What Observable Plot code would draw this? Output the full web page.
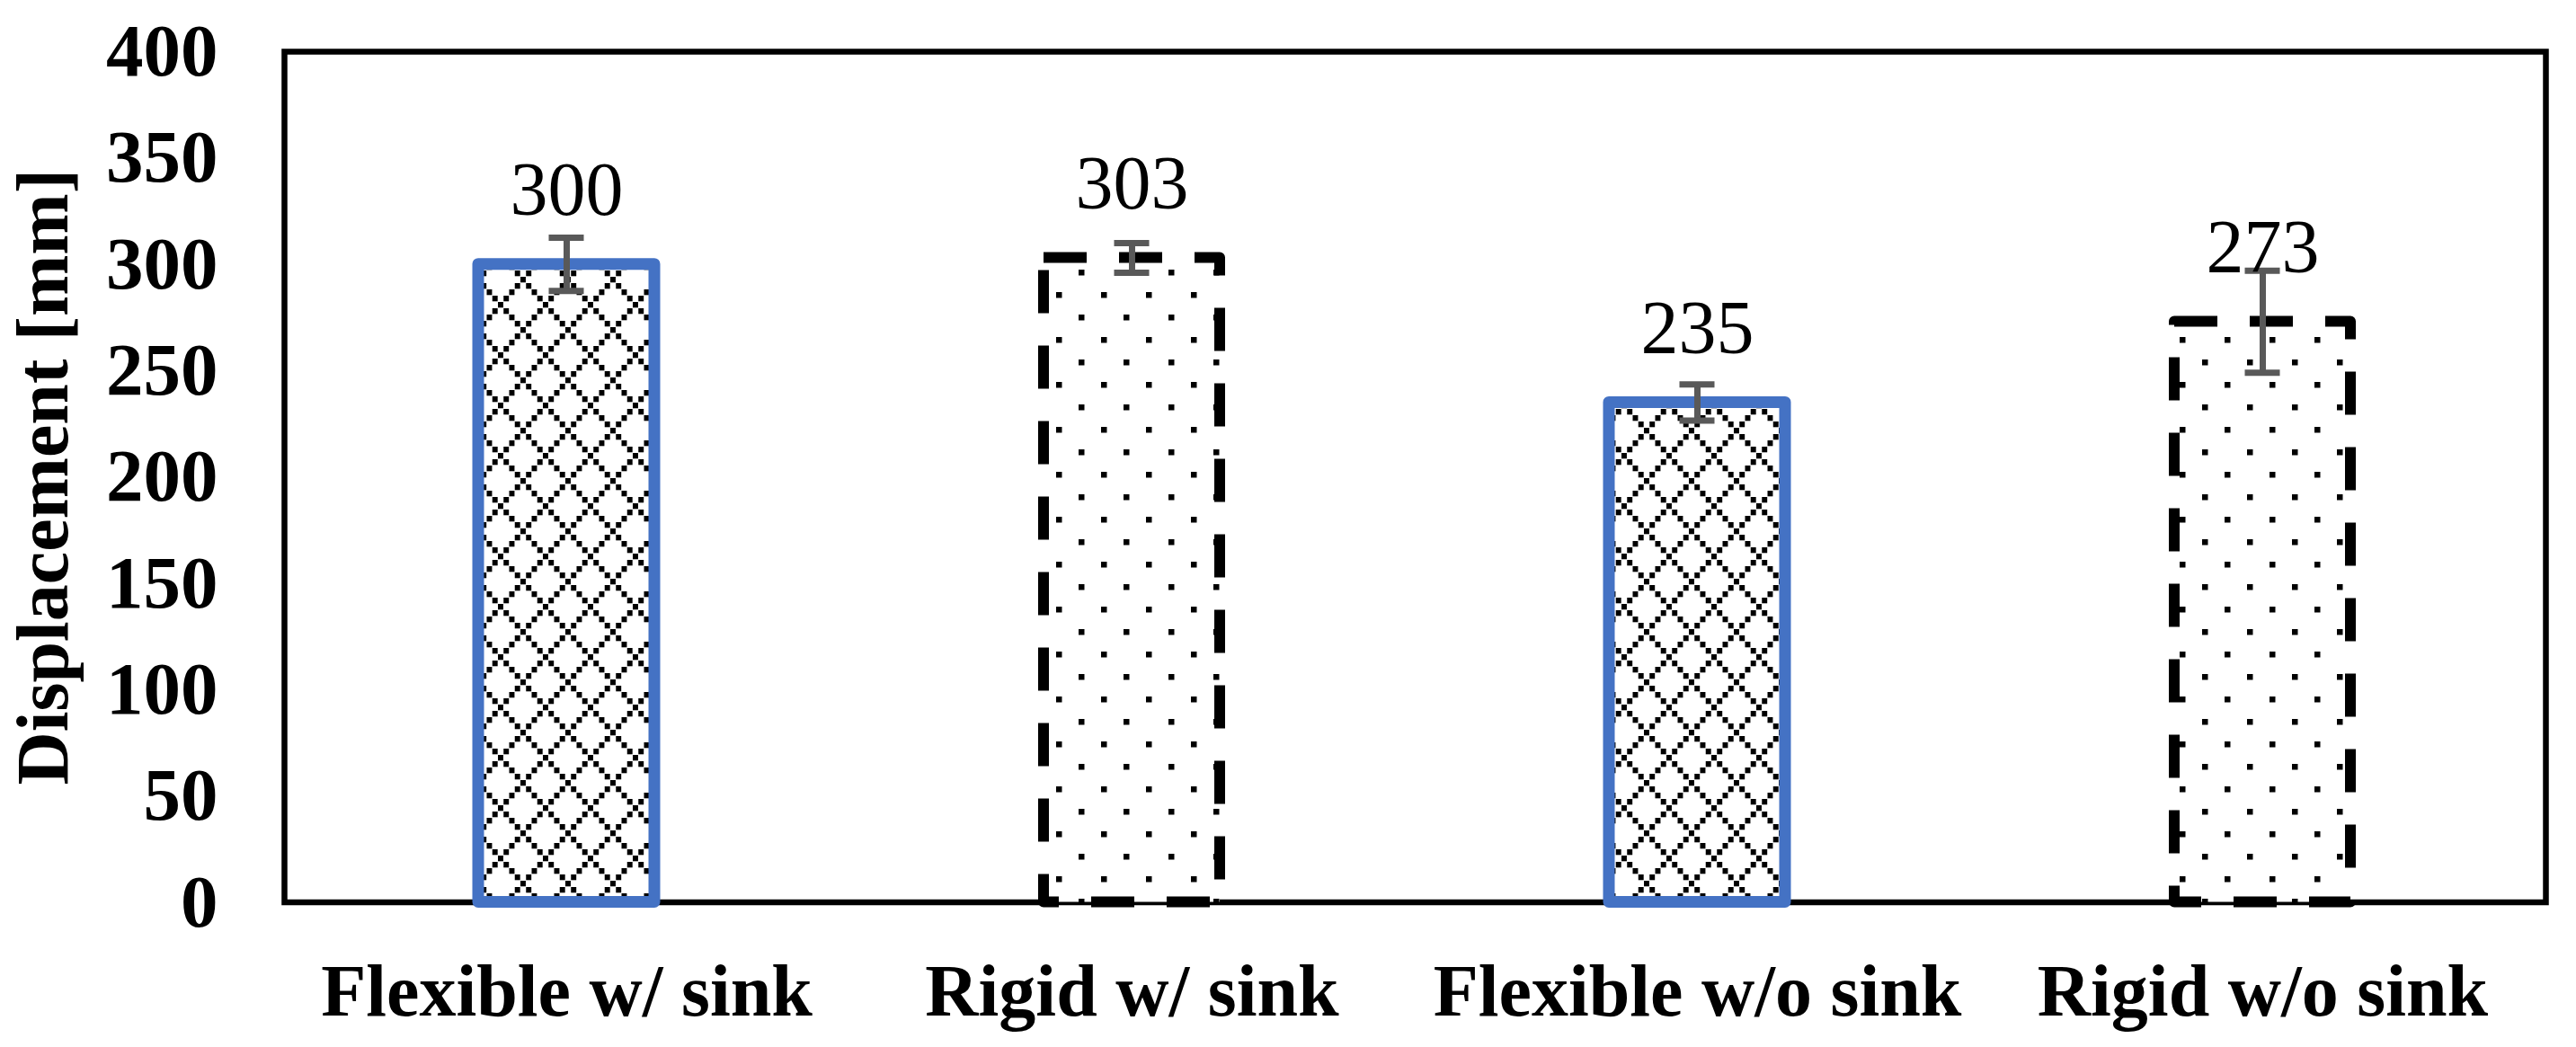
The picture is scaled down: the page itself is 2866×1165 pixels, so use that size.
<!DOCTYPE html>
<html>
<head>
<meta charset="utf-8">
<script src="https://cdn.jsdelivr.net/npm/d3@7"></script>
<script src="https://cdn.jsdelivr.net/npm/@observablehq/plot@0.6"></script>
<style>
  html, body { margin: 0; padding: 0; background: #fff; }
  #chart svg { display: block; }
</style>
</head>
<body>
<div id="chart"></div>
<script>
const categories = ["Flexible w/ sink", "Rigid w/ sink", "Flexible w/o sink", "Rigid w/o sink"];
const values = [300, 303, 235, 273];
const errors = [12.5, 7, 8.5, 24];
const kinds = ["Flexible", "Rigid", "Flexible", "Rigid"];
const yTicks = [0, 50, 100, 150, 200, 250, 300, 350, 400];
const yTitle = "Displacement [mm]";

const rows = categories.map((c, i) => ({
  category: c, value: values[i], err: errors[i], kind: kinds[i],
  lo: values[i] - errors[i], hi: values[i] + errors[i]
}));
const flex = rows.filter(d => d.kind === "Flexible");
const rigid = rows.filter(d => d.kind === "Rigid");

const font = "'Liberation Serif', 'Times New Roman', Times, serif";

const chart = Plot.plot({
  width: 2866,
  height: 1165,
  marginLeft: 316,
  marginRight: 34,
  marginTop: 57,
  marginBottom: 161.5,
  style: { fontFamily: font, fontSize: "83px", fontWeight: "bold", color: "#000", background: "#fff", overflow: "visible" },
  x: { domain: categories, paddingInner: 0.688, paddingOuter: 0.344 },
  y: { domain: [0, 400] },
  marks: [
    Plot.frame({ stroke: "#000", strokeWidth: 6.5 }),
    Plot.axisY({ ticks: yTicks, tickSize: 0, tickPadding: 74, label: null, fontSize: 83, fontWeight: "bold" }),
    Plot.axisX({ tickSize: 0, tickPadding: 68, label: null, fontSize: 82, fontWeight: "bold" }),
    Plot.text([yTitle], { frameAnchor: "left", text: d => d, rotate: -90, dx: -268, textAnchor: "middle", lineAnchor: "middle", fontSize: 82, fontWeight: "bold", fill: "#000" }),
    Plot.barY(flex, { x: "category", y: "value", fill: "url(#diamondPat)", stroke: "#4472C4", strokeWidth: 13, strokeLinejoin: "round" }),
    Plot.barY(rigid, { x: "category", y: "value", fill: "url(#dotPat)", stroke: "#000", strokeWidth: 12, strokeDasharray: "48,36", strokeLinejoin: "round" }),
    Plot.ruleX(rows, { x: "category", y1: "lo", y2: "hi", stroke: "#595959", strokeWidth: 7 }),
    Plot.tickY(rows, { x: "category", y: "hi", stroke: "#595959", strokeWidth: 7, inset: 78.5 }),
    Plot.tickY(rows, { x: "category", y: "lo", stroke: "#595959", strokeWidth: 7, inset: 78.5 }),
    Plot.text(rows, { x: "category", y: "value", text: d => String(d.value), lineAnchor: "bottom", dy: -55, fontSize: 84, fontWeight: "normal", fill: "#000" })
  ]
});

// Add fill patterns
const ux = 6.25, uy = 7;
const diamondCells = [[0,0],[1,1],[2,2],[3,3],[4,4],[5,5],[6,6],[7,7],[7,1],[6,2],[5,3],[3,5],[2,6],[1,7]];
let diamondRects = diamondCells.map(([i, j]) => `<rect x="${i*ux}" y="${j*uy}" width="${ux*0.95}" height="${uy*0.9}" fill="#000"/>`).join("");
const defs = `
<pattern id="diamondPat" patternUnits="userSpaceOnUse" width="${8*ux}" height="${8*uy}" x="4" y="0">
  <rect width="${8*ux}" height="${8*uy}" fill="#fff"/>
  ${diamondRects}
</pattern>
<pattern id="dotPat" patternUnits="userSpaceOnUse" width="50" height="50" x="0" y="0">
  <rect width="50" height="50" fill="#fff"/>
  <rect x="0" y="0" width="6.5" height="6.5" fill="#000"/>
  <rect x="25" y="25" width="6.5" height="6.5" fill="#000"/>
</pattern>`;
const d = document.createElementNS("http://www.w3.org/2000/svg", "defs");
d.innerHTML = defs;
chart.insertBefore(d, chart.firstChild);

document.getElementById("chart").appendChild(chart);
</script>
</body>
</html>
